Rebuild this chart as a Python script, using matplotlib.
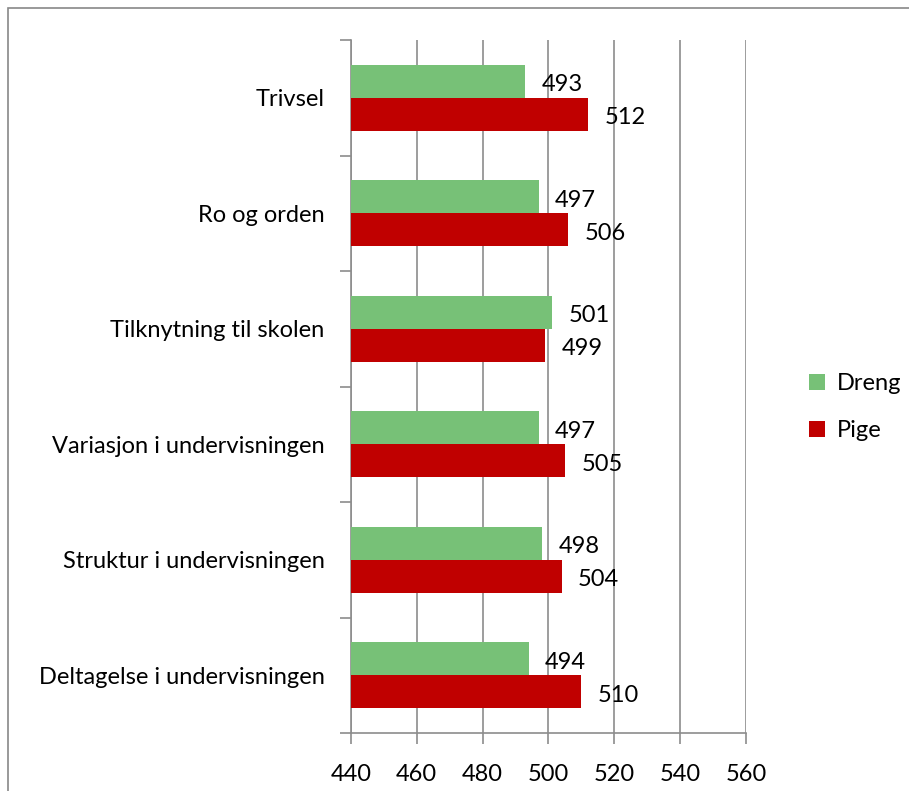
import matplotlib.pyplot as plt
import numpy as np
from matplotlib.patches import Rectangle

# data
categories = ["Trivsel", "Ro og orden", "Tilknytning til skolen",
              "Variasjon i undervisningen", "Struktur i undervisningen",
              "Deltagelse i undervisningen"]
dreng = [493, 497, 501, 497, 498, 494]
pige = [512, 506, 499, 505, 504, 510]
xticks = [440, 460, 480, 500, 520, 540, 560]

green = "#77C177"
red = "#C00000"
grid_col = "#8C8C8C"

plt.rcParams['font.family'] = ['Lato', 'DejaVu Sans']
plt.rcParams['font.size'] = 17

fig = plt.figure(figsize=(9.09, 7.91), dpi=100)
ax = fig.add_axes([0.386, 0.0733, 0.4347, 0.8761])

# outer border of the chart area
fig.patches.append(Rectangle((8 / 909, -0.01), 1.0, (791 - 8) / 791 + 0.01,
                             transform=fig.transFigure, fill=False,
                             edgecolor="#888888", linewidth=1.2))

y = np.arange(len(categories))
h = 0.286

bars_d = ax.barh(y - h / 2, [v - 440 for v in dreng], height=h, left=440,
                 color=green, label="Dreng", zorder=3)
bars_p = ax.barh(y + h / 2, [v - 440 for v in pige], height=h, left=440,
                 color=red, label="Pige", zorder=3)

for yy, v in zip(y, dreng):
    ax.text(v + 5, yy - h / 2 + 0.03, str(v), va="center", ha="left")
for yy, v in zip(y, pige):
    ax.text(v + 5, yy + h / 2 + 0.03, str(v), va="center", ha="left")

ax.set_xlim(440, 560)
ax.set_ylim(len(categories) - 0.5, -0.5)
ax.set_xticks(xticks)
ax.set_xticklabels([str(t) for t in xticks])
ax.set_yticks(y)
ax.set_yticklabels(categories)
ax.set_yticks(np.arange(-0.5, len(categories)), minor=True)

ax.tick_params(axis="y", which="major", length=0, pad=19)
ax.tick_params(axis="y", which="minor", length=8, color=grid_col, width=1.2, direction="out")
ax.tick_params(axis="x", length=8, color=grid_col, width=1.2, direction="out", pad=14)

ax.grid(axis="x", color=grid_col, linewidth=1.2, zorder=0)
ax.set_axisbelow(True)
for s in ["top", "right"]:
    ax.spines[s].set_visible(False)
for s in ["left", "bottom"]:
    ax.spines[s].set_color(grid_col)
    ax.spines[s].set_linewidth(1.2)

ax.legend(loc="center left", bbox_to_anchor=(1.105, 0.47), frameon=False,
          handlelength=0.7, handleheight=0.7, handletextpad=0.5,
          labelspacing=1.1)

fig.savefig("out.png", dpi=100)
